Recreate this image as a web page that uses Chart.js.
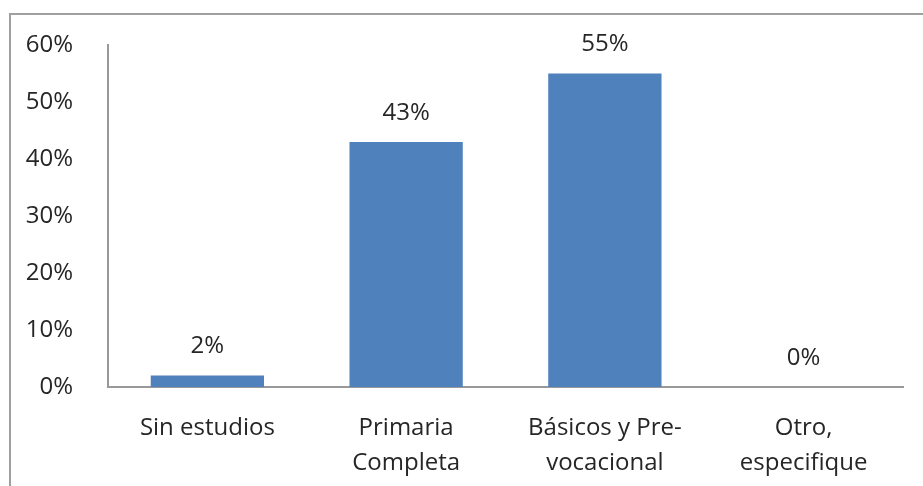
<!DOCTYPE html>
<html>
<head>
<meta charset="utf-8">
<script src="https://cdn.jsdelivr.net/npm/chart.js@4/dist/chart.umd.min.js"></script>
<style>
  html, body { margin: 0; padding: 0; background: #fff; overflow: hidden; }
  #frame { position: absolute; left: 9px; top: 13px; width: 1000px; height: 600px;
           border: 2px solid #a0a0a0; box-sizing: border-box; }
  #wrap { position: absolute; left: 0; top: 0; width: 923px; height: 486px; }
</style>
</head>
<body>
<div id="frame"></div>
<div id="wrap"><canvas id="c" width="923" height="486"></canvas></div>
<script>
// Nivel de estudios alcanzado (porcentaje)
const categories = [
  ["Sin estudios"],
  ["Primaria", "Completa"],
  ["Básicos y Pre-", "vocacional"],
  ["Otro,", "especifique"]
];
const percentages = [2, 43, 55, 0];
const yTicks = [0, 10, 20, 30, 40, 50, 60];

const FONT = "'Open Sans', 'DejaVu Sans', sans-serif";
const TEXT = "#262626";

// Writes each bar's value above it
const valueLabels = {
  id: "valueLabels",
  afterDatasetsDraw(chart) {
    const ctx = chart.ctx;
    const meta = chart.getDatasetMeta(0);
    ctx.save();
    ctx.font = "24px " + FONT;
    ctx.fillStyle = TEXT;
    ctx.textAlign = "center";
    ctx.textBaseline = "middle";
    meta.data.forEach((bar, i) => {
      ctx.fillText(percentages[i] + "%", bar.x, bar.y - 29);
    });
    ctx.restore();
  }
};

new Chart(document.getElementById("c"), {
  type: "bar",
  data: {
    labels: categories,
    datasets: [{
      data: percentages,
      backgroundColor: "#4F81BD",
      borderWidth: 0,
      categoryPercentage: 0.57,
      barPercentage: 1.0
    }]
  },
  options: {
    responsive: false,
    animation: false,
    layout: { padding: { top: 45, right: 20, left: 0, bottom: 0 } },
    plugins: { legend: { display: false }, tooltip: { enabled: false } },
    scales: {
      x: {
        grid: { display: false },
        border: { display: true, color: "#999999", width: 2 },
        ticks: { color: TEXT, font: { family: FONT, size: 24, lineHeight: 1.45 }, padding: 16, maxRotation: 0, autoSkip: false },
        afterFit(s) { s.height = 99; }
      },
      y: {
        min: 0, max: 60,
        afterBuildTicks(s) { s.ticks = yTicks.map(v => ({ value: v })); },
        grid: { display: false },
        border: { display: true, color: "#999999", width: 2 },
        ticks: { color: TEXT, font: { family: FONT, size: 24 }, padding: 27,
                 callback: v => v + "%" },
        afterFit(s) { s.width = 108; }
      }
    }
  },
  plugins: [valueLabels]
});
</script>
</body>
</html>
